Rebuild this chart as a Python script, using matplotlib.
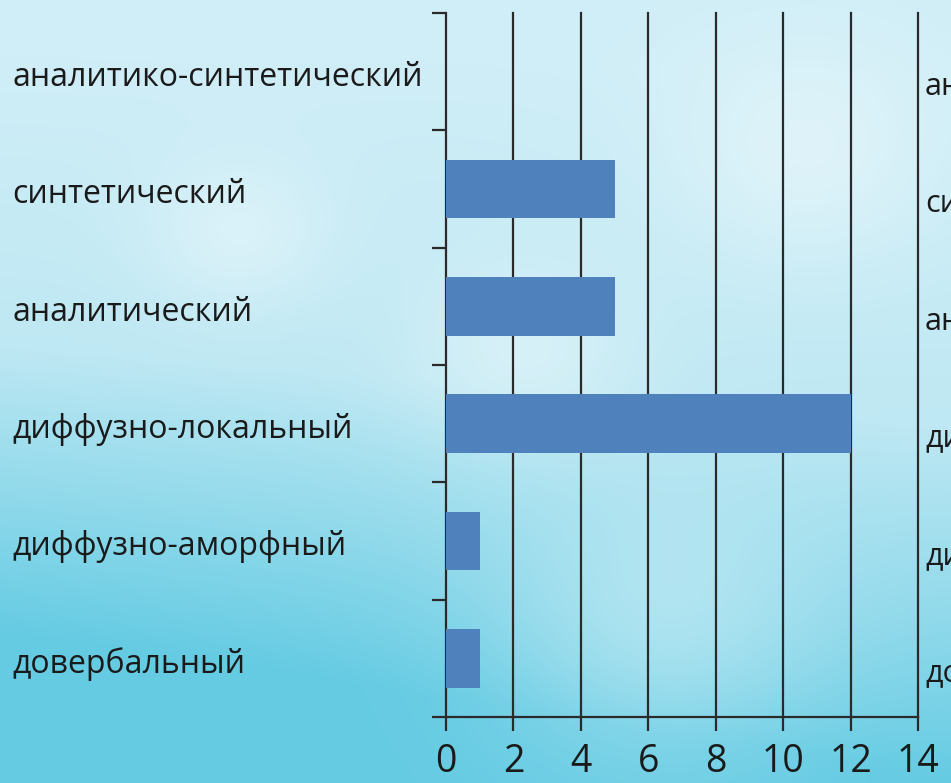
import numpy as np
import matplotlib.pyplot as plt
import matplotlib.transforms as mtransforms

# categories, top to bottom as in the picture
categories = ['аналитико-синтетический', 'синтетический', 'аналитический',
              'диффузно-локальный', 'диффузно-аморфный', 'довербальный']
values = [0, 5, 5, 12, 1, 1]
x_ticks = [0, 2, 4, 6, 8, 10, 12, 14]

plt.rcParams['font.family'] = ['Open Sans', 'DejaVu Sans']

fig = plt.figure(figsize=(9.51, 7.83), dpi=100)

# soft light-blue background (stand-in for the bokeh photo)
h, w = 200, 240
yy, xx = np.mgrid[0:1:h * 1j, 0:1:w * 1j]
top = np.array([208, 238, 247]) / 255
mid = np.array([190, 232, 243]) / 255
low = np.array([100, 203, 227]) / 255
t = np.clip(yy * 1.1 - 0.1 + 0.25 * (1 - xx) * yy, 0, 1)
bg = np.where(t[..., None] < 0.5,
              top + (mid - top) * (t[..., None] / 0.5),
              mid + (low - mid) * ((t[..., None] - 0.5) / 0.5))
# a few pale blobs
for cx, cy, r in [(0.55, 0.45, 0.12), (0.7, 0.8, 0.18), (0.25, 0.3, 0.1), (0.85, 0.2, 0.15)]:
    d = np.exp(-(((xx - cx) / r) ** 2 + ((yy - cy) / r) ** 2))
    bg = bg + (1 - bg) * 0.35 * d[..., None]
bga = fig.add_axes([0, 0, 1, 1], zorder=0)
bga.imshow(bg, aspect='auto', extent=[0, 1, 0, 1], interpolation='bicubic')
bga.axis('off')

ax = fig.add_axes([446 / 951, 1 - 717 / 783, 472 / 951, 704 / 783], zorder=1)
ax.patch.set_alpha(0)

pos = np.arange(len(categories))
ax.barh(pos, values, height=0.5, color='#4f81bd', edgecolor='none', zorder=3)
ax.set_ylim(len(categories) - 0.5, -0.5)
ax.set_xlim(0, 14)

# vertical grid lines
for xv in x_ticks[1:]:
    ax.axvline(xv, color='#2a2a2a', lw=1.6, zorder=2, clip_on=False)

ax.set_xticks(x_ticks)
ax.set_xticklabels([str(v) for v in x_ticks], fontsize=27, color='#1a1a1a')
ax.set_yticks(np.arange(len(categories) + 1) - 0.5)
ax.set_yticklabels([])
ax.tick_params(axis='x', direction='out', length=10, width=1.6, color='#2a2a2a', pad=9)
ax.tick_params(axis='y', direction='out', length=10, width=1.6, color='#2a2a2a')

for s in ['top', 'right']:
    ax.spines[s].set_visible(False)
for s in ['left', 'bottom']:
    ax.spines[s].set_color('#2a2a2a')
    ax.spines[s].set_linewidth(1.6)

# category labels on the left, left-aligned
lt = mtransforms.blended_transform_factory(fig.transFigure, ax.transData)
for i, c in enumerate(categories):
    ax.text(12 / 951, i + 0.05, c, transform=lt, ha='left', va='center',
            fontsize=23, color='#1a1a1a', clip_on=False)
    # labels of a second chart, cut off by the right edge as in the picture
    ax.text(925 / 951, i + 0.13, c, transform=lt, ha='left', va='center',
            fontsize=22, color='#1a1a1a', clip_on=False)

plt.savefig('out.png', dpi=100)
